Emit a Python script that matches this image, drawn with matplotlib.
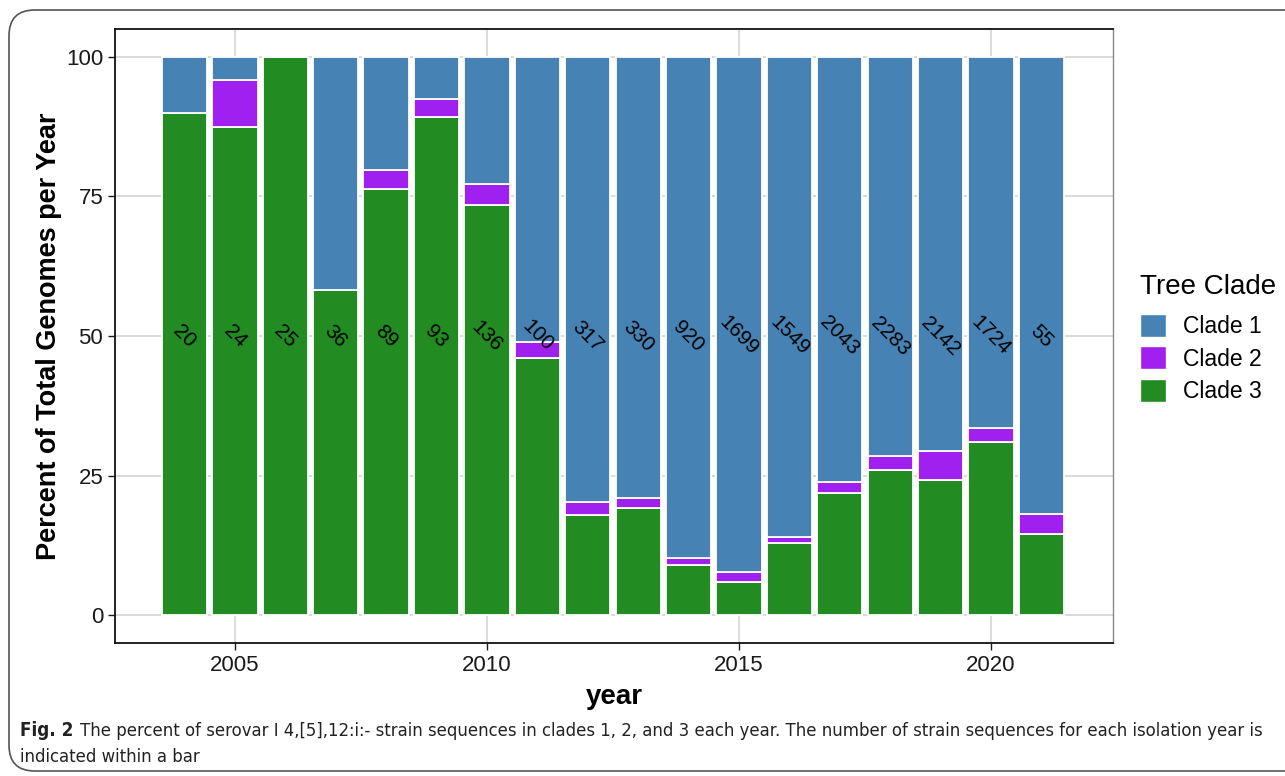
import numpy as np
import matplotlib
matplotlib.use("Agg")
import matplotlib.pyplot as plt
from matplotlib.patches import FancyBboxPatch, Patch

plt.rcParams["font.family"] = ["Liberation Sans", "DejaVu Sans"]

years = list(range(2004, 2022))
# percent of genomes per clade
clade3 = [90.0, 87.5, 100.0, 58.3, 76.4, 89.2, 73.5, 46.0, 18.0, 19.1, 9.0, 6.0, 12.9, 21.8, 26.0, 24.2, 31.0, 14.5]
clade2 = [0.0, 8.3, 0.0, 0.0, 3.4, 3.3, 3.7, 3.0, 2.2, 1.8, 1.3, 1.8, 1.1, 2.1, 2.5, 5.2, 2.5, 3.7]
clade1 = [100 - a - b for a, b in zip(clade3, clade2)]
counts = [20, 24, 25, 36, 89, 93, 136, 100, 317, 330, 920, 1699, 1549, 2043, 2283, 2142, 1724, 55]

c1, c2, c3 = "#4682b4", "#a020f0", "#228b22"

fig = plt.figure(figsize=(12.85, 7.76), dpi=100)
ax = fig.add_axes([115 / 1285, 1 - 643 / 776, (1113 - 115) / 1285, (643 - 29) / 776])

# outer rounded frame of the figure panel
frame = FancyBboxPatch((9 / 1285, 5 / 776), 1.2, (766 - 5) / 776, boxstyle="round,pad=0,rounding_size=0.02",
                       transform=fig.transFigure, fill=False, edgecolor="#555555", lw=1.2,
                       mutation_aspect=1285 / 776)
fig.patches.append(frame)

x = np.array(years)
ax.bar(x, clade3, width=0.9, color=c3, edgecolor="white", lw=1.3, zorder=2)
ax.bar(x, clade2, width=0.9, bottom=clade3, color=c2, edgecolor="white", lw=1.3, zorder=2)
ax.bar(x, clade1, width=0.9, bottom=np.array(clade3) + np.array(clade2), color=c1,
       edgecolor="white", lw=1.3, zorder=2)

for xi, n in zip(x, counts):
    ax.text(xi, 50, str(n), rotation=-45, ha="center", va="center", fontsize=15, zorder=3)

ax.set_xlim(2002.62, 2022.42)
ax.set_ylim(-5, 105)
ax.set_xticks([2005, 2010, 2015, 2020])
ax.set_yticks([0, 25, 50, 75, 100])
ax.grid(True, color="#d4d4d4", lw=1.2, zorder=0)
ax.set_axisbelow(True)
for s in ["left", "bottom", "top"]:
    ax.spines[s].set_linewidth(1.3)
    ax.spines[s].set_color("#111111")
ax.spines["right"].set_linewidth(1.0)
ax.spines["right"].set_color("#888888")
ax.tick_params(labelsize=16, colors="#1a1a1a", length=5, width=1.0)
ax.set_xlabel("year", fontsize=20, fontweight="bold", labelpad=6)
ax.set_ylabel("Percent of Total Genomes per Year", fontsize=19.5, fontweight="bold", labelpad=3)

handles = [Patch(facecolor=c, edgecolor="white") for c in (c1, c2, c3)]
leg = fig.legend(handles, ["Clade 1", "Clade 2", "Clade 3"], title="Tree Clade",
                 loc="upper left", bbox_to_anchor=(1131 / 1285, 1 - 265 / 776), frameon=False,
                 fontsize=16.5, title_fontsize=20, handlelength=1.12, handleheight=1.15,
                 labelspacing=0.36, handletextpad=0.75, borderaxespad=0)
leg._legend_box.align = "left"
leg._legend_box.sep = 10

cap = dict(family=["DejaVu Sans"], fontstretch="condensed", color="#222222", va="center")
fig.text(20 / 1285, 1 - 731 / 776, "Fig. 2", fontsize=13.5, fontweight="bold", **cap)
line1 = fig.text(80 / 1285, 1 - 731 / 776,
                 "The percent of serovar I 4,[5],12:i:- strain sequences in clades 1, 2, and 3 each year. "
                 "The number of strain sequences for each isolation year is",
                 fontsize=13.5, **cap)
line2 = fig.text(20 / 1285, 1 - 757 / 776, "indicated within a bar", fontsize=13.5, **cap)

# squeeze caption to fit the same width as the original
r = fig.canvas.get_renderer()
w = line1.get_window_extent(r).width
fs = 13.5 * min(1.0, (1258 - 80) / w)
line1.set_fontsize(fs)
line2.set_fontsize(fs)

fig.savefig("out.png", dpi=100)
